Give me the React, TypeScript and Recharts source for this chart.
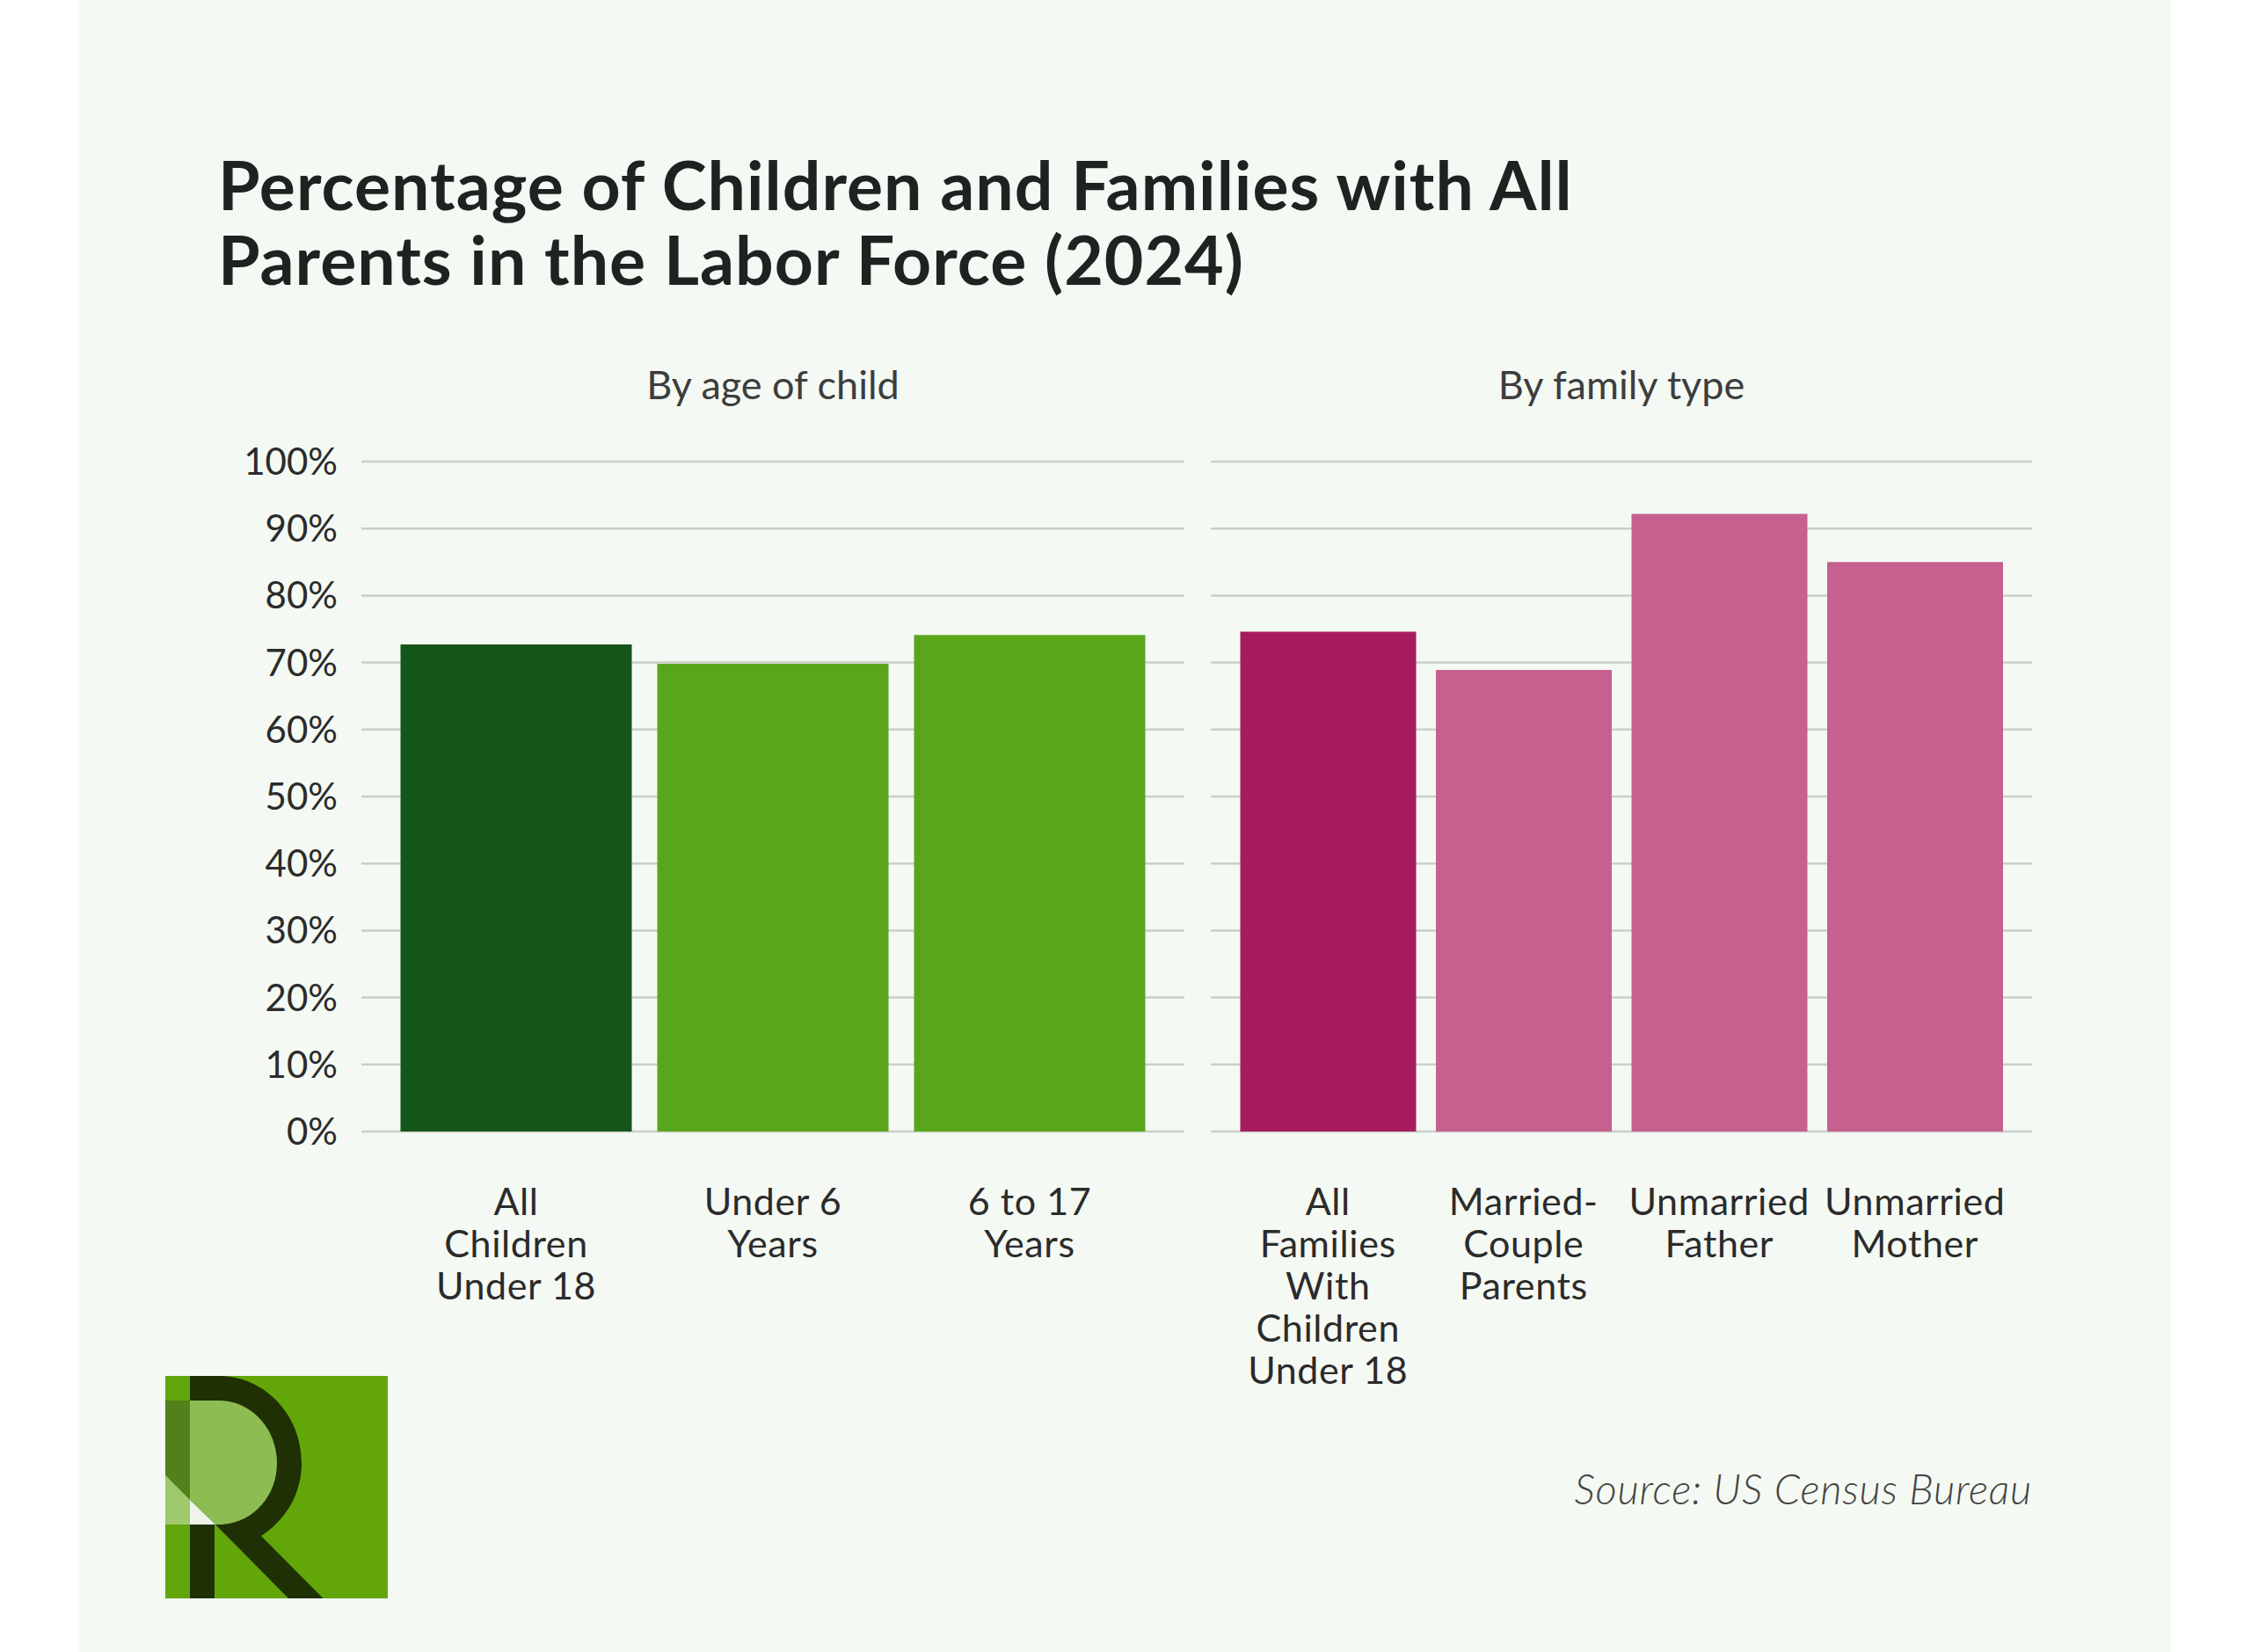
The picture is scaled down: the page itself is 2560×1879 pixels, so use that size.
import React from 'react';
import { BarChart, Bar, Cell, CartesianGrid, XAxis, YAxis } from 'recharts';

const FONT = 'Lato, sans-serif';

// "|" marks the line breaks of the axis labels
const ageCategories = ['All|Children|Under 18', 'Under 6|Years', '6 to 17|Years'];
const ageValues = [72.7, 69.8, 74.1];
const ageColors = ['#14561a', '#5aa61b', '#5aa61b'];

const familyCategories = ['All|Families|With|Children|Under 18', 'Married-|Couple|Parents', 'Unmarried|Father', 'Unmarried|Mother'];
const familyValues = [74.6, 68.9, 92.2, 85.0];
const familyColors = ['#a81b5e', '#c6608e', '#c6608e', '#c6608e'];

const yTicks = [0, 10, 20, 30, 40, 50, 60, 70, 80, 90, 100];

const ageData = ageCategories.map((name, i) => ({ name, value: ageValues[i] }));
const familyData = familyCategories.map((name, i) => ({ name, value: familyValues[i] }));

const CategoryTick = (props: any) => {
  const { x, y, payload } = props;
  const lines: string[] = String(payload.value).split('|');
  return (
    <text x={x} y={y + 95} textAnchor="middle" fontFamily={FONT} fontSize={43} letterSpacing={0.6} fill="#2b2b2b">
      {lines.map((line, i) => (
        <tspan key={i} x={x} dy={i === 0 ? 0 : 48}>{line}</tspan>
      ))}
    </text>
  );
};

const Logo = () => (
  <svg width={253} height={253} viewBox="0 0 253 253" style={{ position: 'absolute', left: 188, top: 1565 }}>
    <rect width={253} height={253} fill="#62a609" />
    <path d="M0 28H28V141L0 113Z" fill="#52801a" />
    <path d="M0 113L28 141V169H0Z" fill="#9fc96c" />
    <path d="M28 0H61C113 0 155 44 155 99C155 134 137 164 109 182L179.5 253H140L57 169H28V28H28Z" fill="#1f3005" />
    <path d="M28 28H61C98 28 127 60 127 99C127 138 98 169 61 169H57L28 141Z" fill="#8cbc52" />
    <path d="M28 141L57 169H28Z" fill="#eef5e8" />
    <rect x={28} y={169} width={28} height={84} fill="#1f3005" />
  </svg>
);

const label = (style: React.CSSProperties): React.CSSProperties => ({
  position: 'absolute',
  fontFamily: FONT,
  whiteSpace: 'nowrap',
  ...style,
});

export default function App() {
  return (
    <div style={{ position: 'absolute', left: 0, top: 0, width: 2560, height: 1879, background: '#fff', overflow: 'hidden' }}>
      <div style={{ position: 'absolute', left: 90, top: 0, width: 2379, height: 1879, background: '#f4f9f3' }} />

      <div style={label({ left: 248, top: 167, fontSize: 77, fontWeight: 700, letterSpacing: 1, lineHeight: '85px', color: '#1e2322' })}>
        Percentage of Children and Families with All<br />Parents in the Labor Force (2024)
      </div>

      <div style={label({ left: 579, width: 600, top: 411, textAlign: 'center', fontSize: 45, lineHeight: '52px', color: '#3d3d3d' })}>By age of child</div>
      <div style={label({ left: 1544, width: 600, top: 411, textAlign: 'center', fontSize: 45, lineHeight: '52px', color: '#3d3d3d' })}>By family type</div>

      <div style={{ position: 'absolute', left: 200, top: 500 }}>
        <BarChart width={1147} height={1150} data={ageData} margin={{ top: 25, right: 0, bottom: 0, left: 0 }} barCategoryGap={14.5}>
          <CartesianGrid horizontal vertical={false} stroke="#c9cfc9" strokeWidth={2.5} />
          <XAxis dataKey="name" height={363} axisLine={false} tickLine={false} tickSize={0} tickMargin={0} interval={0} padding={{ left: 30, right: 30 }} tick={<CategoryTick />} />
          <YAxis width={211} domain={[0, 100]} ticks={yTicks} axisLine={false} tickLine={false} tickSize={0} tickMargin={27} interval={0}
            tickFormatter={(v: number) => `${v}%`} tick={{ fontFamily: FONT, fontSize: 42, fill: '#2b2b2b' }} />
          <Bar dataKey="value" isAnimationActive={false}>
            {ageData.map((d, i) => <Cell key={d.name} fill={ageColors[i]} />)}
          </Bar>
        </BarChart>
      </div>

      <div style={{ position: 'absolute', left: 1377, top: 500 }}>
        <BarChart width={934} height={1150} data={familyData} margin={{ top: 25, right: 0, bottom: 0, left: 0 }} barCategoryGap={11.5}>
          <CartesianGrid horizontal vertical={false} stroke="#c9cfc9" strokeWidth={2.5} />
          <XAxis dataKey="name" height={363} axisLine={false} tickLine={false} tickSize={0} tickMargin={0} interval={0} padding={{ left: 22, right: 22 }} tick={<CategoryTick />} />
          <YAxis hide width={0} domain={[0, 100]} ticks={yTicks} />
          <Bar dataKey="value" isAnimationActive={false}>
            {familyData.map((d, i) => <Cell key={d.name} fill={familyColors[i]} />)}
          </Bar>
        </BarChart>
      </div>

      <div style={label({ right: 249, top: 1667, fontSize: 47, fontStyle: 'italic', fontWeight: 300, letterSpacing: 0.75, lineHeight: '52px', color: '#444' })}>Source: US Census Bureau</div>

      <Logo />
    </div>
  );
}
